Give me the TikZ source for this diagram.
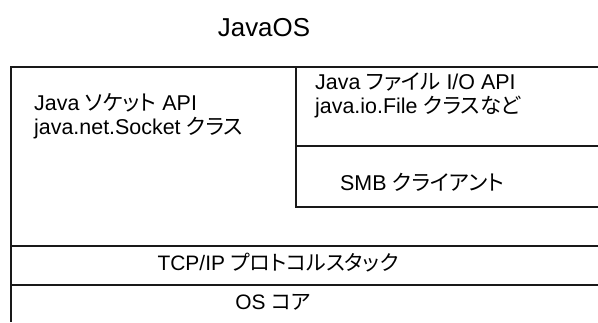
\documentclass[tikz,border=0pt]{standalone}
\usepackage{fontspec}
\setmainfont{Liberation Sans}
\newfontfamily\jp[RawFeature=+palt]{Noto Sans CJK JP}
\begin{document}
\begin{tikzpicture}[x=1bp,y=-1bp,
  frame/.style={line width=1.4bp, draw=black!90},
  txt/.style={font=\fontsize{21.5}{25}\selectfont, inner sep=0pt, anchor=base west},
  ctxt/.style={font=\fontsize{21}{25}\selectfont, inner sep=0pt, anchor=base},
  title/.style={font=\fontsize{26}{30}\selectfont, inner sep=0pt, anchor=base}]
\useasboundingbox (0,0) rectangle (598,322);
% frame lines
\draw[frame] (598,67) -- (11,67) -- (11,322);
\draw[frame] (296,67) -- (296,207) -- (598,207);
\draw[frame] (296,146) -- (598,146);
\draw[frame] (11,246) -- (598,246);
\draw[frame] (11,285) -- (598,285);
% texts
\node[title] (t) at (264,36) {JavaOS};
\node[txt] (s1) at (34,110) {Java {\jp ソケット} API};
\node[txt] (s2) at (34,134) {java.net.Socket {\jp クラス}};
\node[txt] (f1) at (315,89) {Java {\jp ファイル} I/O API};
\node[txt] (f2) at (315,113) {java.io.File {\jp クラスなど}};
\node[txt] (smb) at (340,190) {SMB {\jp クライアント}};
\node[ctxt] (tcp) at (278,270) {TCP/IP {\jp プロトコルスタック}};
\node[ctxt] (os) at (273,309) {OS {\jp コア}};
\end{tikzpicture}
\end{document}
